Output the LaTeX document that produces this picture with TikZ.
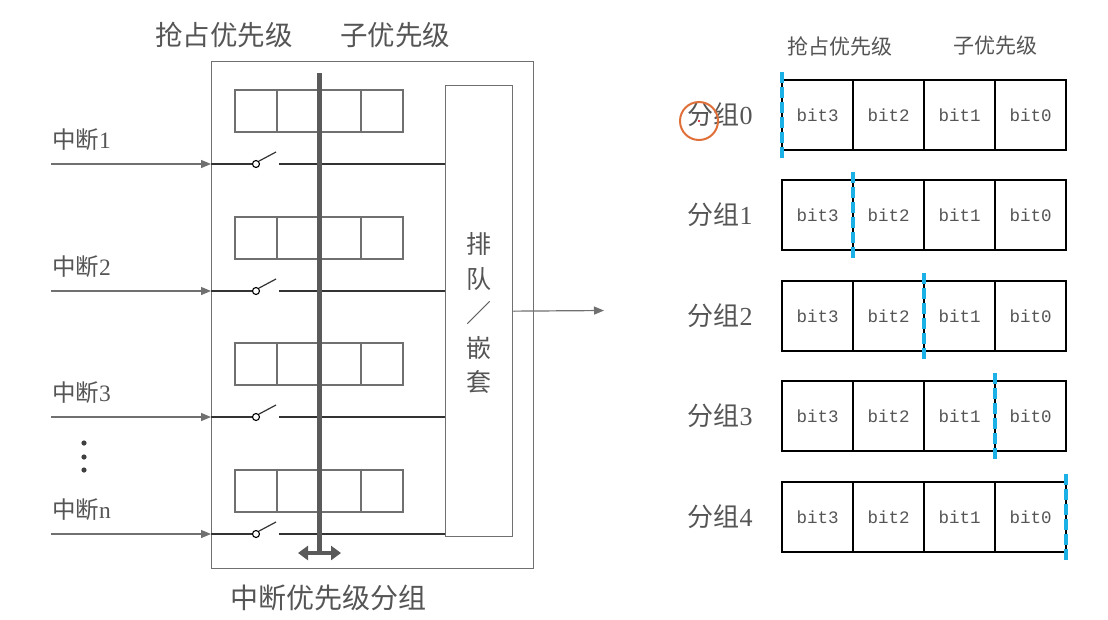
\documentclass[tikz,border=0pt]{standalone}
\usepackage{fontspec}
\setmainfont{Liberation Serif}
\newfontfamily\cjk{Noto Sans CJK SC}
\newfontfamily\bitfont{Liberation Mono}
\usetikzlibrary{arrows.meta}
\definecolor{txtgray}{HTML}{555555}
\definecolor{linegray}{HTML}{707070}
\definecolor{bargray}{HTML}{5a5a5a}
\definecolor{divblue}{HTML}{1BB0E6}
\definecolor{cursorc}{HTML}{E0703A}
\tikzset{
  frame/.style={draw=linegray, line width=1.3pt, inner sep=0pt, anchor=north west},
  regcell/.style={draw=linegray, line width=1.3pt, minimum width=42pt, minimum height=42pt, inner sep=0pt},
  bitcell/.style={draw=black, line width=1.5pt, minimum width=71pt, minimum height=70pt, inner sep=0pt, text=txtgray, font=\bitfont\fontsize{17.5}{19}\selectfont},
  inarrow/.style={draw=linegray, line width=1.2pt, -{Triangle[length=10pt,width=8pt]}},
  wire/.style={draw=black!80, line width=1.2pt},
  lbl/.style={text=txtgray, inner sep=0pt},
  swdot/.style={circle, draw=black, fill=white, line width=1.1pt, minimum size=7pt, inner sep=0pt},
}
\newcommand{\zh}[1]{{\cjk #1}}
\begin{document}
\begin{tikzpicture}[x=1pt,y=-1pt]
\useasboundingbox (0,0) rectangle (1108,619);
\fill[white] (0,0) rectangle (1108,619);

% ---------- left part ----------
\node[frame, minimum width=322pt, minimum height=507pt] (outer) at (211,61) {};
\node[frame, minimum width=67pt, minimum height=451pt] (queue) at (445,85) {};
\node[lbl, align=center, font=\cjk\fontsize{25}{34.5}\selectfont] (qtext) at (479,313) {排\\队\\／\\嵌\\套};

\node[lbl, font=\cjk\fontsize{27.5}{30}\selectfont] (hpre) at (224,35) {抢占优先级};
\node[lbl, font=\cjk\fontsize{27.5}{30}\selectfont] (hsub) at (395,35) {子优先级};
\node[lbl, font=\cjk\fontsize{28}{30}\selectfont] (hgroup) at (328,598) {中断优先级分组};

% registers, switches, wires
\foreach \r/\ty/\ly/\nm in {1/90/164/1, 2/217/291/2, 3/343/417/3, 4/470/534/n}{
  \foreach \k/\cx in {1/256, 2/298, 3/340, 4/382}{
    \node[regcell] (reg\r-\k) at (\cx,\ty+21) {};
  }
  \node[lbl, anchor=west, font=\fontsize{23.5}{25}\selectfont] (int\r) at (52,\ly-24) {\zh{中断}\nm};
  \coordinate (src\r) at (51,\ly);
  \coordinate (lev\r) at (276,\ly-12);
  \coordinate (swo\r) at (279,\ly);
  \node[swdot] (sw\r) at (256,\ly) {};
  \draw[inarrow] (src\r) -- (src\r -| outer.west);
  \draw[wire] (src\r -| outer.west) -- (sw\r.west);
  \draw[wire] (sw\r.north east) -- (lev\r);
  \draw[wire] (swo\r) -- (swo\r -| queue.west);
}

% vertical bar with double arrow
\coordinate (bartop) at (319,73);
\coordinate (barbot) at (319,553);
\coordinate (dal) at (298,553);
\coordinate (dar) at (341,553);
\draw[bargray, line width=5pt] (bartop) -- (barbot);
\draw[bargray, line width=4pt, {Triangle[length=10pt,width=14pt]}-{Triangle[length=10pt,width=14pt]}] (dal) -- (dar);

% dots
\foreach \yy in {443,457,470}{ \fill[black!75] (84,\yy) circle (2.6pt); }

% output arrow
\coordinate (outend) at (604,310.5);
\draw[inarrow] (queue.east) -- (outend);

% ---------- right part ----------
\node[lbl, font=\cjk\fontsize{21}{23}\selectfont] (rpre) at (840,46) {抢占优先级};
\node[lbl, font=\cjk\fontsize{21}{23}\selectfont] (rsub) at (995,46) {子优先级};

\foreach \g/\cy/\dx in {0/115/782, 1/215/853, 2/316/924, 3/416/995, 4/517/1066}{
  \node[lbl, font=\fontsize{26}{28}\selectfont] (grp\g) at (720,\cy) {\zh{分组}\g};
  \foreach \k/\cx/\bt in {1/817.5/3, 2/888.5/2, 3/959.5/1, 4/1030.5/0}{
    \node[bitcell] (b\g-\k) at (\cx,\cy) {bit\bt};
  }
  \coordinate (dtop\g) at (\dx,\cy-43);
  \coordinate (dbot\g) at (\dx,\cy+43);
  \draw[black, line width=1.5pt] (dtop\g) -- (dbot\g);
  \draw[divblue, line width=4pt, dash pattern=on 11pt off 4pt] (dtop\g) -- (dbot\g);
}

% cursor highlight
\node[circle, draw=cursorc, line width=2pt, minimum size=38pt, inner sep=0pt] (cursor) at (699,121) {};
\fill[red!80!black] (cursor.center) circle (1.2pt);
\end{tikzpicture}
\end{document}
